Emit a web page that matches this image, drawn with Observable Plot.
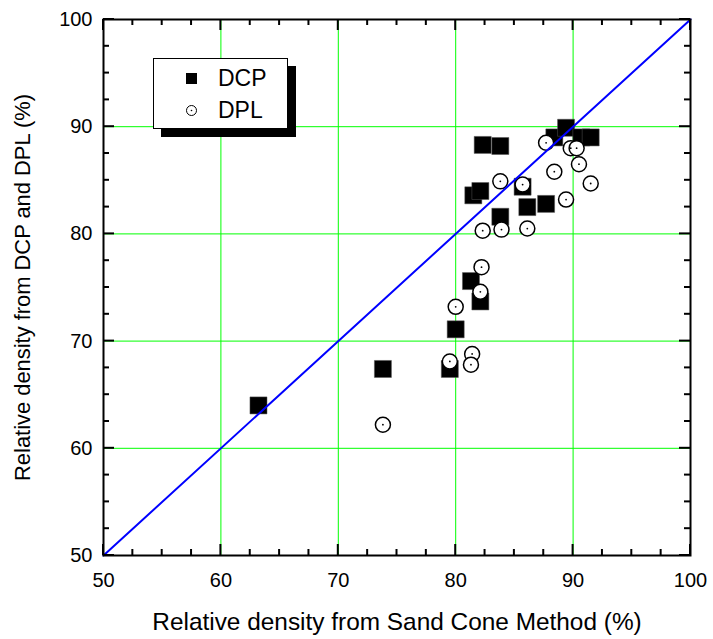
<!DOCTYPE html>
<html><head><meta charset="utf-8">
<script src="https://cdn.jsdelivr.net/npm/d3@7"></script>
<script src="https://cdn.jsdelivr.net/npm/@observablehq/plot@0.6"></script>
<style>
body{margin:0;background:#fff;font-family:Arial,"Liberation Sans",sans-serif;}
#wrap{position:relative;width:713px;height:639px;}
#legend{position:absolute;left:153px;top:58px;width:133px;height:69px;border:1px solid #000;background:#fff;box-shadow:8px 8px 0 #000;}
#legend .row{position:absolute;left:0;display:flex;align-items:center;font-size:23px;}
#legend svg{display:block;}
</style>
</head><body>
<div id="wrap"></div>
<script>
// DCP series
const dcpX = [63.2,73.8,79.5,80.0,81.3,82.1,81.5,82.1,82.3,83.8,83.8,85.7,86.1,87.7,88.4,89.4,90.7,91.5];
const dcpY = [64.0,67.4,67.4,71.1,75.6,73.7,83.6,84.0,88.3,88.2,81.6,84.4,82.5,82.8,89.0,89.9,89.0,89.0];
// DPL series
const dplX = [73.8,79.5,81.4,81.3,80.0,82.2,82.1,82.3,83.9,86.1,83.8,85.7,87.7,88.4,89.4,89.8,90.3,90.5,91.5];
const dplY = [62.2,68.1,68.8,67.8,73.2,76.9,74.6,80.3,80.4,80.5,84.9,84.6,88.5,85.8,83.2,88.0,88.0,86.5,84.7];
// 1:1 line
const lineX = [50,100];
const lineY = [50,100];
// axis domain and ticks
const xDomain = [50,100];
const yDomain = [50,100];
const majorTicks = [50,60,70,80,90,100];
const minorTicks = [52.5,55,57.5,62.5,65,67.5,72.5,75,77.5,82.5,85,87.5,92.5,95,97.5];
const gridTicks = [60,70,80,90];
const seriesNames = ["DCP","DPL"];
const xLabel = "Relative density from Sand Cone Method (%)";
const yLabel = "Relative density from DCP and DPL (%)";

const dcp = dcpX.map((x,i)=>({x, y:dcpY[i]}));
const dpl = dplX.map((x,i)=>({x, y:dplY[i]}));
const diag = lineX.map((x,i)=>({x, y:lineY[i]}));

const W = 713, H = 639, ML = 103, MR = 23, MT = 19, MB = 84;
const MAJ = 11, MIN = 6;

const plot = Plot.plot({
  width: W, height: H,
  marginLeft: ML, marginRight: MR, marginTop: MT, marginBottom: MB,
  style: {fontFamily: "Arial", background: "#fff", color: "#000"},
  x: {domain: xDomain},
  y: {domain: yDomain},
  marks: [
    Plot.ruleX(gridTicks, {stroke: "#00ff00", strokeWidth: 1}),
    Plot.ruleY(gridTicks, {stroke: "#00ff00", strokeWidth: 1}),
    Plot.dot(dcp, {x: "x", y: "y", symbol: "square", r: 9.6, fill: "#000", stroke: "#555", strokeWidth: 0.5}),
    Plot.dot(dpl, {x: "x", y: "y", r: 7.5, fill: "#fff", stroke: "#000", strokeWidth: 1.5}),
    Plot.dot(dpl, {x: "x", y: "y", r: 0.9, fill: "#000"}),
    Plot.line(diag, {x: "x", y: "y", stroke: "#0000ff", strokeWidth: 2}),
    Plot.axisX(majorTicks, {anchor: "bottom", tickSize: 0, tickPadding: 17, fontSize: 20, label: null}),
    Plot.axisY(majorTicks, {anchor: "left", tickSize: 0, tickPadding: 11, fontSize: 20, label: null}),
    Plot.text([xLabel], {text: d => d, frameAnchor: "bottom", lineAnchor: "middle", textAnchor: "middle", dy: 67, fontSize: 24.4, fill: "#000"}),
    Plot.text([yLabel], {text: d => d, frameAnchor: "left", lineAnchor: "middle", textAnchor: "middle", dx: -81, rotate: -90, fontSize: 21.9, fill: "#000"}),
    Plot.frame({stroke: "#000", strokeWidth: 2})
  ]
});
const wrap = document.getElementById("wrap");
wrap.appendChild(plot);

// inward tick marks on all four sides, positioned through Plot's own scales
try {
  const sx = plot.scale("x"), sy = plot.scale("y");
  const X = v => sx.apply(v), Y = v => sy.apply(v);
  const g = d3.select(plot).append("g").attr("stroke", "#000").attr("stroke-width", 2);
  const addTicks = (vals, len) => {
    vals.forEach(v => {
      const x = X(v), y = Y(v);
      const x0 = X(xDomain[0]), x1 = X(xDomain[1]), y0 = Y(yDomain[0]), y1 = Y(yDomain[1]);
      g.append("line").attr("x1", x).attr("x2", x).attr("y1", y0).attr("y2", y0 - len);
      g.append("line").attr("x1", x).attr("x2", x).attr("y1", y1).attr("y2", y1 + len);
      g.append("line").attr("y1", y).attr("y2", y).attr("x1", x0).attr("x2", x0 + len);
      g.append("line").attr("y1", y).attr("y2", y).attr("x1", x1).attr("x2", x1 - len);
    });
  };
  addTicks(majorTicks, MAJ);
  addTicks(minorTicks, MIN);
} catch (e) {}

// legend
const legend = document.createElement("div");
legend.id = "legend";
seriesNames.forEach((name, i) => {
  const row = document.createElement("div");
  row.className = "row";
  row.style.top = (i === 0 ? 5 : 37) + "px";
  const ns = "http://www.w3.org/2000/svg";
  const svg = document.createElementNS(ns, "svg");
  svg.setAttribute("width", 64); svg.setAttribute("height", 28);
  if (i === 0) {
    const r = document.createElementNS(ns, "rect");
    r.setAttribute("x", 32); r.setAttribute("y", 9); r.setAttribute("width", 11); r.setAttribute("height", 11);
    r.setAttribute("fill", "#000");
    svg.appendChild(r);
  } else {
    const c = document.createElementNS(ns, "circle");
    c.setAttribute("cx", 37.5); c.setAttribute("cy", 14.5); c.setAttribute("r", 5);
    c.setAttribute("fill", "#fff"); c.setAttribute("stroke", "#000"); c.setAttribute("stroke-width", 1);
    svg.appendChild(c);
    const d = document.createElementNS(ns, "circle");
    d.setAttribute("cx", 37.5); d.setAttribute("cy", 14.5); d.setAttribute("r", 0.8);
    d.setAttribute("fill", "#000");
    svg.appendChild(d);
  }
  row.appendChild(svg);
  const t = document.createElement("span");
  t.textContent = name;
  row.appendChild(t);
  legend.appendChild(row);
});
wrap.appendChild(legend);
</script>
</body></html>
